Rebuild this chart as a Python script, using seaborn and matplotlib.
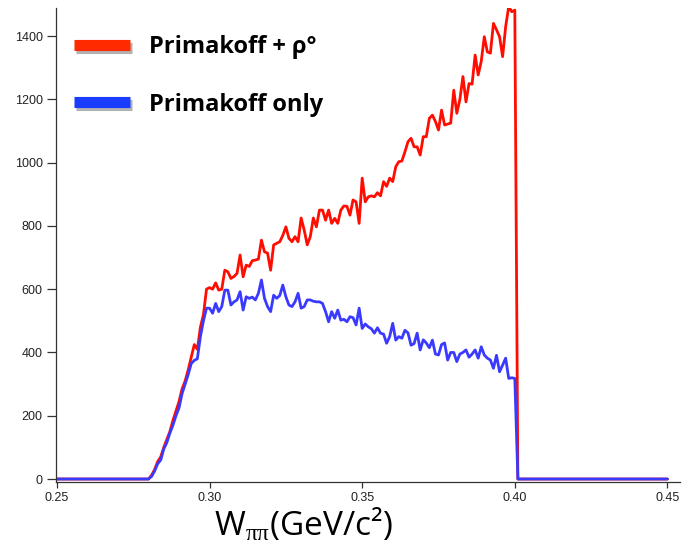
import matplotlib
matplotlib.use("Agg")
import matplotlib.pyplot as plt
import matplotlib.patheffects as pe
from matplotlib.lines import Line2D
import numpy as np
import pandas as pd
import seaborn as sns

# ============ DATA ============
bin_width = 0.001
x_start, x_rise, x_stop, x_end = 0.250, 0.280, 0.400, 0.450

# counts per bin from 0.280 to 0.400
primakoff_rho = [0, 12, 30, 55, 70, 100, 125, 150, 185, 215,
                 245, 285, 310, 345, 385, 425, 410, 480, 520, 600,
                 605, 600, 620, 597, 600, 660, 655, 634, 640, 650,
                 708, 639, 676, 672, 690, 692, 695, 755, 718, 714,
                 660, 740, 745, 750, 770, 797, 761, 750, 766, 750,
                 825, 787, 740, 766, 825, 797, 850, 850, 818, 850,
                 808, 824, 808, 850, 863, 862, 834, 882, 876, 808,
                 951, 876, 892, 895, 892, 905, 895, 940, 925, 951,
                 940, 987, 1003, 1005, 1034, 1066, 1077, 1050, 1050, 1024,
                 1082, 1082, 1140, 1150, 1130, 1103, 1166, 1119, 1122, 1125,
                 1229, 1156, 1200, 1272, 1192, 1250, 1248, 1340, 1277, 1320,
                 1398, 1350, 1346, 1440, 1420, 1398, 1335, 1430, 1493, 1477,
                 1482]

primakoff_only = [0, 8, 25, 48, 60, 95, 115, 145, 170, 200,
                  225, 270, 300, 330, 365, 375, 380, 450, 500, 540,
                  540, 524, 555, 529, 545, 597, 597, 550, 560, 566,
                  592, 534, 576, 571, 575, 566, 587, 629, 571, 545,
                  529, 581, 571, 580, 613, 576, 550, 545, 560, 587,
                  540, 545, 566, 566, 562, 560, 560, 555, 529, 497,
                  529, 508, 534, 502, 505, 497, 513, 510, 487, 540,
                  476, 490, 481, 475, 461, 478, 461, 458, 429, 450,
                  492, 439, 450, 445, 470, 462, 423, 428, 461, 408,
                  440, 430, 415, 439, 395, 392, 425, 430, 376, 400,
                  400, 371, 395, 400, 408, 385, 395, 408, 382, 418,
                  392, 382, 376, 350, 391, 339, 360, 382, 318, 320,
                  318]

labels = ["Primakoff + ρ°", "Primakoff only"]
line_colors = ["#ff0d00", "#3a3aff"]
legend_colors = ["#ff2a00", "#1a3cff"]

# ============ BUILD TABLE ============
n_lead = int(round((x_rise - x_start) / bin_width))
n_tail = int(round((x_end - x_stop) / bin_width))
w = np.round(np.arange(n_lead + len(primakoff_rho) + n_tail) * bin_width + x_start, 4)

frames = []
for lab, vals in zip(labels, [primakoff_rho, primakoff_only]):
    counts = np.concatenate([np.zeros(n_lead), vals, np.zeros(n_tail)])
    frames.append(pd.DataFrame({"W": w, "counts": counts, "series": lab}))
df = pd.concat(frames, ignore_index=True)

# ============ PLOT ============
sns.set_style("ticks")
plt.rcParams["font.family"] = ["Liberation Sans", "DejaVu Sans"]
plt.rcParams["mathtext.fontset"] = "custom"
plt.rcParams["mathtext.rm"] = "Liberation Serif"

fig = plt.figure(figsize=(6.83, 5.49), dpi=100)
ax = fig.add_axes([0.082, 0.122, 0.914, 0.863])

sns.lineplot(data=df, x="W", y="counts", hue="series", hue_order=labels,
             palette=dict(zip(labels, line_colors)), linewidth=2.0,
             legend=False, ax=ax)

ax.set_xlim(0.2497, 0.4542)
ax.set_ylim(-9.5, 1488)
ax.set_xticks([0.25, 0.30, 0.35, 0.40, 0.45])
ax.set_xticklabels(["0.25", "0.30", "0.35", "0.40", "0.45"])
ax.set_yticks(range(0, 1401, 200))
ax.tick_params(axis="both", labelsize=9, colors="#333333", labelcolor="#222222", width=0.9)
ax.tick_params(axis="y", length=6.5, pad=3)
ax.tick_params(axis="x", length=4, pad=3)
ax.set_xlabel("")
ax.set_ylabel("")
for side in ["left", "bottom"]:
    ax.spines[side].set_color("#333333")
    ax.spines[side].set_linewidth(0.9)
sns.despine(ax=ax)

# legend with thick shadowed bars
handles = [Line2D([0], [0], color=c, lw=8, solid_capstyle="butt",
                  path_effects=[pe.SimpleLineShadow(offset=(1.5, -2), alpha=0.3), pe.Normal()])
           for c in legend_colors]
leg = ax.legend(handles, labels, loc="upper left", bbox_to_anchor=(0.108, 0.936),
                bbox_transform=fig.transFigure, frameon=False,
                prop={"family": ["Open Sans", "DejaVu Sans"], "weight": "bold", "size": 17},
                handlelength=2.38, handletextpad=0.8, labelspacing=1.42,
                borderpad=0, borderaxespad=0, labelcolor="black")

fig.text(0.444, 0.044, "W$_{\\mathrm{ππ}}$(GeV/c²)", ha="center", va="center",
         fontsize=24, color="black", family=["Open Sans", "DejaVu Sans"])

fig.savefig("out.png", dpi=100)
plt.close(fig)
